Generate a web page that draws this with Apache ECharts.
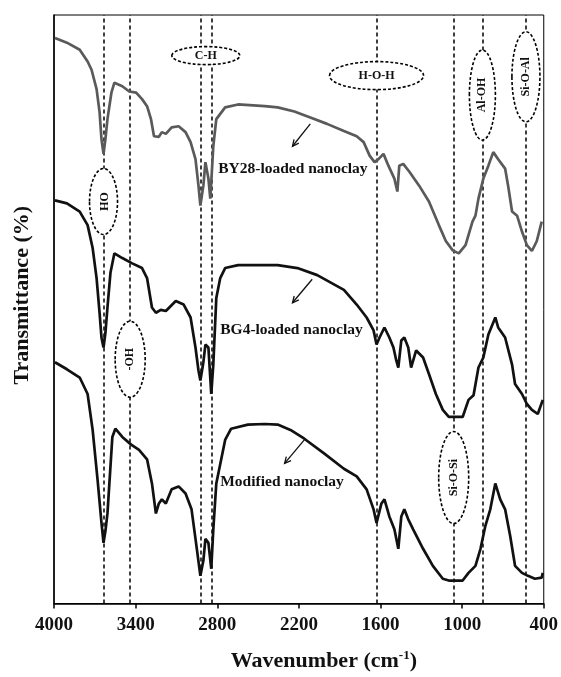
<!DOCTYPE html>
<html><head><meta charset="utf-8">
<script src="https://cdn.jsdelivr.net/npm/echarts@6.0.0/dist/echarts.min.js"></script>
<style>html,body{margin:0;padding:0;background:#fff}#c{width:561px;height:677px}</style>
</head><body><div id="c"></div>
<script>
// ---- data ----
const xTickValues = [4000, 3400, 2800, 2200, 1600, 1000, 400];
const curveNames = ['BY28-loaded nanoclay', 'BG4-loaded nanoclay', 'Modified nanoclay'];

const by28Wn = [3993,3905,3811,3753,3724,3687,3665,3651,3636,3622,3607,3578,3556,3498,3447,3396,3353,3316,3287,3265,3229,3207,3178,3135,3084,3033,2996,2960,2938,2924,2902,2887,2865,2851,2829,2807,2742,2647,2451,2356,2233,2116,1993,1869,1775,1724,1680,1644,1615,1578,1542,1498,1476,1462,1433,1389,1316,1244,1171,1120,1069,1025,975,924,902,880,844,807,771,735,684,662,633,596,560,524,487,451,415];
const by28T = [96.1,95.3,94.1,92.1,90.7,87.4,83.5,78.9,76.4,78.9,82.3,86.8,88.5,87.9,87.0,86.8,85.7,84.5,82.3,79.4,79.3,80.1,79.8,80.9,81.1,80.1,78.4,75.5,71.0,67.6,71.0,75.0,72.2,68.8,77.7,82.3,84.3,84.8,84.5,84.3,83.6,82.6,81.5,80.3,79.4,78.4,76.1,75.0,75.5,76.4,74.4,72.2,70.0,74.4,74.7,73.4,71.0,68.3,64.3,61.6,60.0,59.5,60.9,64.9,65.9,68.8,72.2,74.4,76.7,75.5,73.9,71.0,66.6,65.9,63.2,60.9,59.9,61.6,64.9];

const bg4Wn = [3993,3905,3811,3753,3716,3687,3665,3651,3636,3622,3607,3585,3556,3498,3425,3353,3316,3280,3251,3215,3178,3105,3047,2996,2960,2938,2924,2902,2887,2865,2844,2829,2807,2778,2742,2647,2451,2356,2211,2065,1869,1775,1702,1651,1629,1607,1571,1535,1505,1484,1469,1447,1425,1396,1375,1338,1287,1244,1193,1142,1098,996,953,916,880,844,807,756,735,684,633,611,560,524,487,444,407];
const bg4T = [68.5,68.0,66.6,64.3,60.4,55.3,49.4,45.2,43.5,46.0,50.3,56.2,59.5,58.7,57.8,57.0,55.3,50.3,49.4,49.9,49.7,51.4,50.8,48.6,43.5,39.6,37.9,41.0,44.0,43.5,35.6,40.6,51.9,55.3,57.0,57.5,57.5,57.5,57.0,55.8,53.3,50.8,48.6,46.4,44.0,45.2,46.9,45.2,43.5,41.3,40.1,44.7,45.2,43.5,40.1,43.0,41.8,39.0,35.6,32.9,31.7,31.7,34.6,35.4,40.1,41.8,45.7,48.6,46.9,45.2,40.6,37.3,35.6,33.9,32.9,32.2,34.6];

const modWn = [3993,3905,3811,3753,3716,3680,3651,3636,3622,3607,3571,3549,3498,3433,3375,3316,3280,3251,3229,3207,3178,3135,3084,3033,2989,2953,2924,2902,2887,2865,2844,2829,2807,2742,2698,2575,2451,2356,2262,2160,2015,1869,1775,1702,1651,1629,1593,1571,1535,1498,1469,1447,1425,1396,1360,1287,1215,1142,1098,996,953,902,865,829,793,756,720,684,647,611,560,516,465,415,407];
const modT = [41.0,39.8,38.4,35.6,29.5,21.1,13.7,10.3,12.3,15.3,28.3,29.7,28.3,27.0,26.1,24.5,20.4,15.3,17.0,17.7,17.0,19.4,19.9,18.7,16.0,9.8,4.7,7.3,11.0,10.3,5.9,12.6,20.4,27.8,29.7,30.4,30.5,30.4,29.5,28.0,25.5,22.9,21.6,19.4,16.0,13.7,17.0,17.7,14.8,12.6,9.3,14.8,16.0,14.3,12.6,9.3,6.4,4.2,3.9,3.9,5.2,6.4,9.3,13.2,16.0,20.4,17.7,16.0,11.5,6.4,5.2,4.7,4.2,4.4,5.2];

const bandLineWn = [3636, 3440, 2924, 2844, 1629, 1062, 851, 531];
const bandNames = ['C-H', 'OH', '-OH', 'H-O-H', 'Si-O-Si', 'Al-OH', 'Si-O-Al'];
const bandWn = [2884, 3636, 3440, 1629, 1062, 851, 531];
const bandT = [93.1, 68.3, 41.5, 89.7, 21.4, 86.4, 89.5];

// curve label anchors (data units) and arrow (from -> to) anchors
const labelWn = [2793, 2778, 2778];
const labelT = [73.9, 46.4, 20.6];
const arrowFromWn = [2116, 2102, 2160];
const arrowFromT = [81.5, 55.1, 27.8];
const arrowToWn = [2247, 2247, 2305];
const arrowToT = [77.7, 51.1, 23.8];

// ---- styling / layout ----
const FONT = "'Liberation Serif','Times New Roman',serif";
const bandStyle = [
  {rx: 34, ry: 9, rot: 0},
  {rx: 14, ry: 33, rot: -Math.PI / 2},
  {rx: 15, ry: 38, rot: Math.PI / 2},
  {rx: 47, ry: 14, rot: 0},
  {rx: 15, ry: 46, rot: Math.PI / 2},
  {rx: 13, ry: 45, rot: Math.PI / 2},
  {rx: 14, ry: 45, rot: Math.PI / 2}
];
const curveColors = ['#5a5a5a', '#111', '#111'];

const zip = (a, b) => a.map((v, i) => [v, b[i]]);
const curves = [zip(by28Wn, by28T), zip(bg4Wn, bg4T), zip(modWn, modT)];

const chart = echarts.init(document.getElementById('c'), null, {renderer: 'canvas'});
const option = {
  animation: false,
  backgroundColor: '#fff',
  grid: {left: 54, right: 12, top: 15, bottom: 70, show: true, borderColor: '#000', borderWidth: 1},
  xAxis: {
    type: 'value', min: 400, max: 4000, interval: 600, inverse: true,
    axisLine: {show: true, lineStyle: {color: '#000', width: 1.5}},
    axisTick: {show: true, length: 5, lineStyle: {color: '#000', width: 1.5}},
    splitLine: {show: false},
    axisLabel: {color: '#111', fontFamily: FONT, fontWeight: 'bold', fontSize: 19, margin: 12,
      formatter: v => xTickValues.includes(v) ? String(v) : ''},
    name: 'Wavenumber (cm{sup|-1})',
    nameLocation: 'middle', nameGap: 46,
    nameTextStyle: {color: '#111', fontFamily: FONT, fontWeight: 'bold', fontSize: 22, padding: [0, 0, 0, 50],
      rich: {sup: {fontFamily: FONT, fontWeight: 'bold', fontSize: 13, color: '#111', verticalAlign: 'top', padding: [0, 0, 10, 0]}}}
  },
  yAxis: {
    type: 'value', min: 0, max: 100,
    axisLine: {show: true, lineStyle: {color: '#000', width: 1.5}},
    axisTick: {show: false}, axisLabel: {show: false}, splitLine: {show: false},
    name: 'Transmittance (%)', nameLocation: 'middle', nameGap: 21,
    nameTextStyle: {color: '#111', fontFamily: FONT, fontWeight: 'bold', fontSize: 22, padding: [0, 0, 0, 28]}
  },
  series: curves.map((d, i) => ({
    name: curveNames[i], type: 'line', data: d, symbol: 'none', z: 4,
    lineStyle: {color: curveColors[i], width: 2.7},
    markLine: i === 0 ? {
      silent: true, z: 1, symbol: ['none', 'none'], label: {show: false},
      lineStyle: {type: [4, 3], color: '#000', width: 1.5},
      data: bandLineWn.map(v => ({xAxis: v}))
    } : undefined
  }))
};
chart.setOption(option);

const P = (w, t) => chart.convertToPixel({gridIndex: 0}, [w, t]);
const graphics = [];
bandNames.forEach((name, i) => {
  const [cx, cy] = P(bandWn[i], bandT[i]);
  const s = bandStyle[i];
  graphics.push({type: 'ellipse', z: 2, shape: {cx, cy, rx: s.rx, ry: s.ry},
    style: {fill: '#fff', stroke: '#000', lineWidth: 1.6, lineDash: [3, 2]}});
  graphics.push({type: 'text', z: 3, x: cx, y: cy, rotation: s.rot,
    style: {text: name, fill: '#111', font: `bold 12px ${FONT}`, textAlign: 'center', textVerticalAlign: 'middle'}});
});
curveNames.forEach((name, i) => {
  const [x, y] = P(labelWn[i], labelT[i]);
  graphics.push({type: 'text', z: 6, x, y,
    style: {text: name, fill: '#111', font: `bold 15.5px ${FONT}`, textAlign: 'left', textVerticalAlign: 'middle'}});
  const [x1, y1] = P(arrowFromWn[i], arrowFromT[i]);
  const [x2, y2] = P(arrowToWn[i], arrowToT[i]);
  const ang = Math.atan2(y2 - y1, x2 - x1);
  const h = 7, sp = 0.45;
  graphics.push({type: 'polyline', z: 6, shape: {points: [[x1, y1], [x2, y2]]}, style: {stroke: '#111', lineWidth: 1.3, fill: null}});
  graphics.push({type: 'polyline', z: 6, shape: {points: [
    [x2 - h * Math.cos(ang - sp), y2 - h * Math.sin(ang - sp)], [x2, y2],
    [x2 - h * Math.cos(ang + sp), y2 - h * Math.sin(ang + sp)]]},
    style: {stroke: '#111', lineWidth: 1.3, fill: null}});
});
chart.setOption({graphic: graphics});
</script></body></html>
